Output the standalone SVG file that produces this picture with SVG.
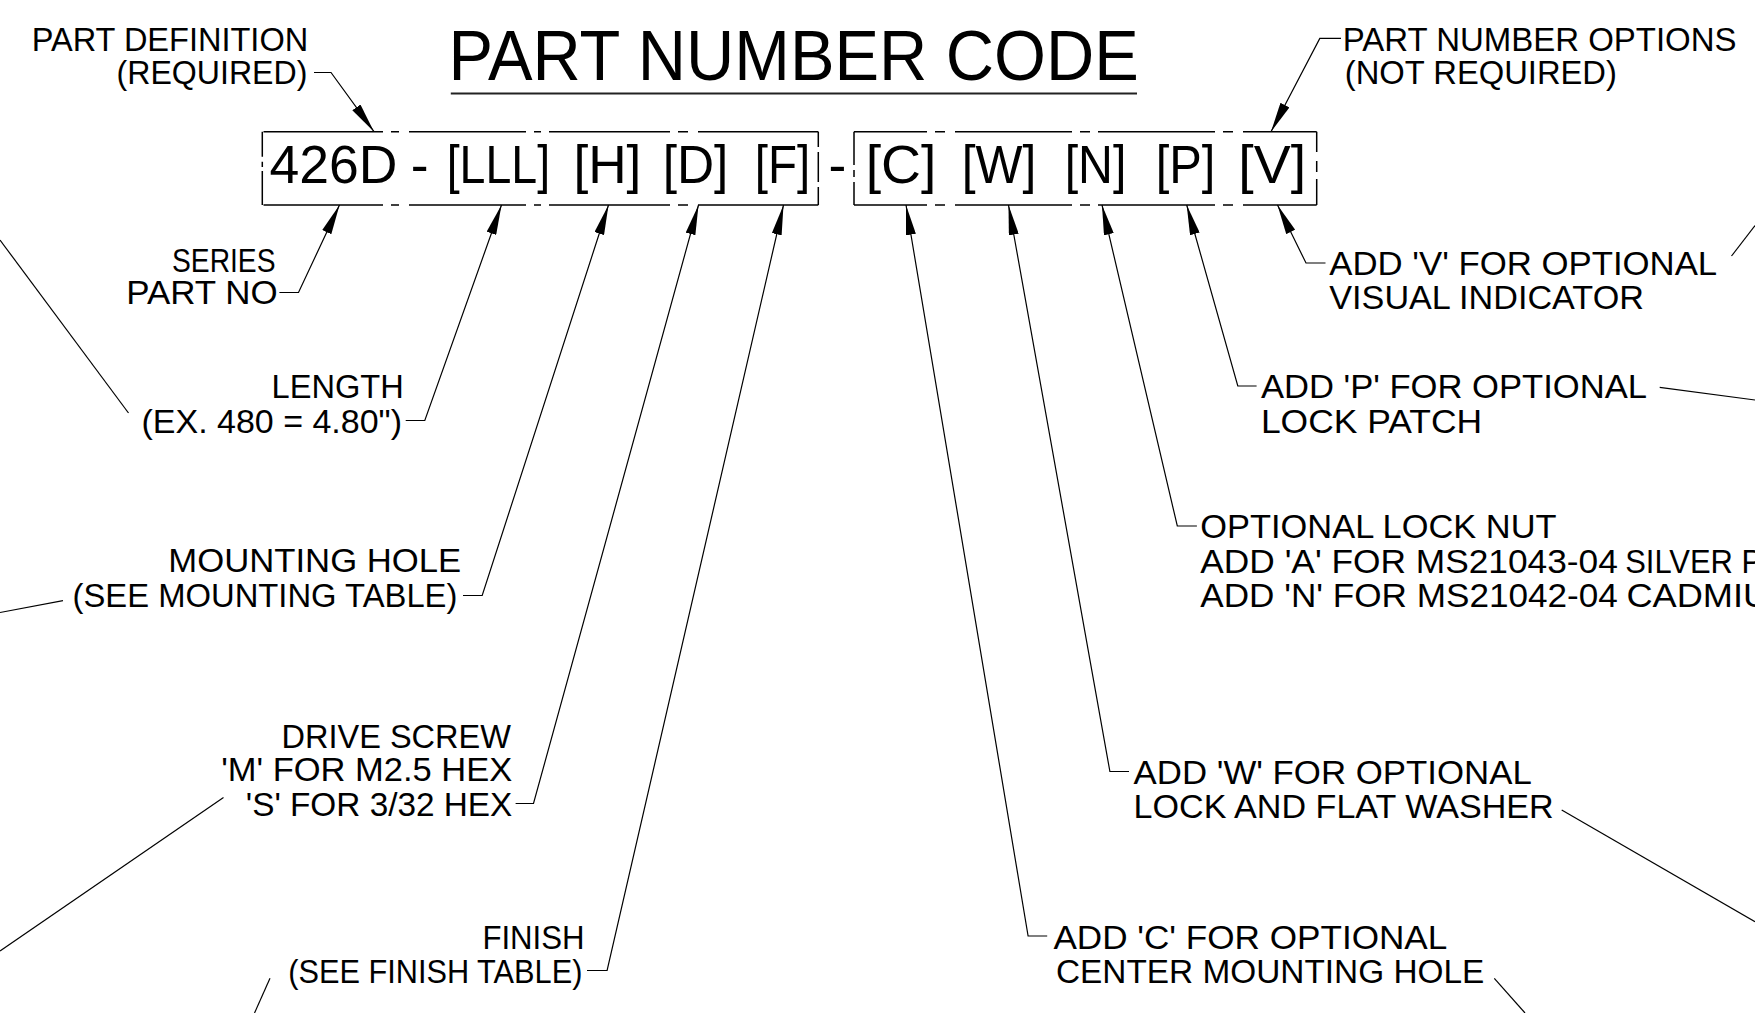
<svg xmlns="http://www.w3.org/2000/svg" width="1755" height="1013" viewBox="0 0 1755 1013">
<style>
text{font-family:"Liberation Sans",Arial,sans-serif;fill:#000}
.lbl{font-size:34px}
.code{font-size:53.5px}
.title{font-size:69.5px}
.ldr{fill:none;stroke:#000;stroke-width:1.2}
.box{fill:none;stroke:#000;stroke-width:1.5}
</style>
<defs>
<marker id="arr" viewBox="0 0 30 10" refX="30" refY="5" markerWidth="30" markerHeight="10" markerUnits="userSpaceOnUse" orient="auto">
<path d="M0,0 L30,5 L0,10 Z" fill="#000"/>
</marker>
</defs>
<rect width="1755" height="1013" fill="#fff"/>

<g id="title">
<text class="title" x="448.4" y="80" textLength="690.5" lengthAdjust="spacingAndGlyphs">PART NUMBER CODE</text>
<line x1="450.8" y1="93.5" x2="1137" y2="93.5" stroke="#222" stroke-width="2"/>
</g>

<g id="code-required">
<path class="box" d="M263.5,131.7H383M391,131.7H399M409,131.7H526M534,131.7H541M549,131.7H670M678,131.7H688M698,131.7H818.3
M263.5,205H383M391,205H399M409,205H526M534,205H541M549,205H670M678,205H688M698,205H818.3
M262.3,131.7V156.7M262.3,161.7V167M262.3,171V205
M818.3,131.7V147M818.3,152V182M818.3,187V205"/>
<text class="code" x="269.5" y="183.3">426D</text>
<text class="code" x="410.8" y="183.3">-</text>
<text class="code" x="446.7" y="183.3" textLength="103.4" lengthAdjust="spacingAndGlyphs">[LLL]</text>
<text class="code" x="573.4" y="183.3" textLength="68" lengthAdjust="spacingAndGlyphs">[H]</text>
<text class="code" x="662.65" y="183.3" textLength="65.7" lengthAdjust="spacingAndGlyphs">[D]</text>
<text class="code" x="754.7" y="183.3" textLength="55.4" lengthAdjust="spacingAndGlyphs">[F]</text>
</g>

<g id="code-separator">
<text class="code" x="828.6" y="183.3">-</text>
</g>

<g id="code-options">
<path class="box" d="M854,131.7H927M935,131.7H945M955,131.7H1072M1080,131.7H1090M1098,131.7H1215M1223,131.7H1233M1243,131.7H1316.7
M854,205H927M935,205H945M955,205H1072M1080,205H1090M1098,205H1215M1223,205H1233M1243,205H1316.7
M854,131.7V165M854,170V177M854,182V205
M1316.7,131.7V152M1316.7,161V172M1316.7,179V205"/>
<text class="code" x="865.65" y="183.3" textLength="70.7" lengthAdjust="spacingAndGlyphs">[C]</text>
<text class="code" x="961.65" y="183.3" textLength="74.7" lengthAdjust="spacingAndGlyphs">[W]</text>
<text class="code" x="1064.65" y="183.3" textLength="61.7" lengthAdjust="spacingAndGlyphs">[N]</text>
<text class="code" x="1155.65" y="183.3" textLength="59.7" lengthAdjust="spacingAndGlyphs">[P]</text>
<text class="code" x="1238.35" y="183.3" textLength="67.7" lengthAdjust="spacingAndGlyphs">[V]</text>
</g>

<g id="lbl-part-definition">
<text class="lbl" x="31.7" y="50.5" textLength="276.5" lengthAdjust="spacingAndGlyphs">PART DEFINITION</text>
<text class="lbl" x="116.6" y="84" textLength="190.8" lengthAdjust="spacingAndGlyphs">(REQUIRED)</text>
</g>

<g id="lbl-part-number-options">
<text class="lbl" x="1342.8" y="50.5" textLength="393.7" lengthAdjust="spacingAndGlyphs">PART NUMBER OPTIONS</text>
<text class="lbl" x="1344.8" y="84" textLength="272.1" lengthAdjust="spacingAndGlyphs">(NOT REQUIRED)</text>
</g>

<g id="lbl-series">
<text class="lbl" x="172" y="271.5" textLength="103.5" lengthAdjust="spacingAndGlyphs">SERIES</text>
<text class="lbl" x="126.2" y="304" textLength="151.4" lengthAdjust="spacingAndGlyphs">PART NO</text>
</g>

<g id="lbl-length">
<text class="lbl" x="271.6" y="398.3" textLength="132.2" lengthAdjust="spacingAndGlyphs">LENGTH</text>
<text class="lbl" x="141.5" y="432.5" textLength="260.5" lengthAdjust="spacingAndGlyphs">(EX. 480 = 4.80")</text>
</g>

<g id="lbl-mounting-hole">
<text class="lbl" x="168.3" y="572" textLength="292.9" lengthAdjust="spacingAndGlyphs">MOUNTING HOLE</text>
<text class="lbl" x="72.6" y="607" textLength="384.8" lengthAdjust="spacingAndGlyphs">(SEE MOUNTING TABLE)</text>
</g>

<g id="lbl-drive-screw">
<text class="lbl" x="281.5" y="747.5" textLength="229.4" lengthAdjust="spacingAndGlyphs">DRIVE SCREW</text>
<text class="lbl" x="221.2" y="781" textLength="291.1" lengthAdjust="spacingAndGlyphs">'M' FOR M2.5 HEX</text>
<text class="lbl" x="245.8" y="815.5" textLength="266.5" lengthAdjust="spacingAndGlyphs">'S' FOR 3/32 HEX</text>
</g>

<g id="lbl-finish">
<text class="lbl" x="482.4" y="948.5" textLength="102.2" lengthAdjust="spacingAndGlyphs">FINISH</text>
<text class="lbl" x="288.2" y="983" textLength="294.2" lengthAdjust="spacingAndGlyphs">(SEE FINISH TABLE)</text>
</g>

<g id="lbl-option-v">
<text class="lbl" x="1329.3" y="275" textLength="387.9" lengthAdjust="spacingAndGlyphs">ADD 'V' FOR OPTIONAL</text>
<text class="lbl" x="1329.3" y="309" textLength="314.6" lengthAdjust="spacingAndGlyphs">VISUAL INDICATOR</text>
</g>

<g id="lbl-option-p">
<text class="lbl" x="1260.9" y="398.3" textLength="386.2" lengthAdjust="spacingAndGlyphs">ADD 'P' FOR OPTIONAL</text>
<text class="lbl" x="1260.9" y="432.5" textLength="221.2" lengthAdjust="spacingAndGlyphs">LOCK PATCH</text>
</g>

<g id="lbl-option-n">
<text class="lbl" x="1200.3" y="538" textLength="356.2" lengthAdjust="spacingAndGlyphs">OPTIONAL LOCK NUT</text>
<text class="lbl" x="1200.3" y="572.5" textLength="417.6" lengthAdjust="spacingAndGlyphs">ADD 'A' FOR MS21043-04</text>
<text class="lbl" x="1625.2" y="572.5" textLength="137" lengthAdjust="spacingAndGlyphs">SILVER P</text>
<text class="lbl" x="1200.3" y="607" textLength="417.6" lengthAdjust="spacingAndGlyphs">ADD 'N' FOR MS21042-04</text>
<text class="lbl" x="1626.4" y="607" textLength="142.8" lengthAdjust="spacingAndGlyphs">CADMIU</text>
</g>

<g id="lbl-option-w">
<text class="lbl" x="1133.6" y="783.5" textLength="398.2" lengthAdjust="spacingAndGlyphs">ADD 'W' FOR OPTIONAL</text>
<text class="lbl" x="1133.6" y="818" textLength="420.1" lengthAdjust="spacingAndGlyphs">LOCK AND FLAT WASHER</text>
</g>

<g id="lbl-option-c">
<text class="lbl" x="1053.4" y="948.5" textLength="393.9" lengthAdjust="spacingAndGlyphs">ADD 'C' FOR OPTIONAL</text>
<text class="lbl" x="1056" y="983" textLength="428.3" lengthAdjust="spacingAndGlyphs">CENTER MOUNTING HOLE</text>
</g>

<g id="connectors">
<polyline class="ldr" points="314,72.5 331,72.5 374,131.7" marker-end="url(#arr)"/>
<polyline class="ldr" points="1341,38.4 1319.8,38.4 1271,131.7" marker-end="url(#arr)"/>
<polyline class="ldr" points="279.4,292.5 298.5,292.5 339.5,205" marker-end="url(#arr)"/>
<polyline class="ldr" points="405.7,420.5 424.8,420.5 501.5,205" marker-end="url(#arr)"/>
<polyline class="ldr" points="463,595.5 482.2,595.5 608.5,205" marker-end="url(#arr)"/>
<polyline class="ldr" points="515.6,803.5 533.5,803.5 698.5,205" marker-end="url(#arr)"/>
<polyline class="ldr" points="587,970.5 607.1,970.5 783.5,205" marker-end="url(#arr)"/>
<polyline class="ldr" points="1047.2,936 1028.1,936 906,205" marker-end="url(#arr)"/>
<polyline class="ldr" points="1129,771.5 1109.9,771.5 1008.5,205" marker-end="url(#arr)"/>
<polyline class="ldr" points="1196.9,526 1177.3,526 1102,205" marker-end="url(#arr)"/>
<polyline class="ldr" points="1256.6,386 1237.8,386 1186.7,205" marker-end="url(#arr)"/>
<polyline class="ldr" points="1325.5,263 1306,263 1277.5,205" marker-end="url(#arr)"/>
<line class="ldr" x1="0" y1="240" x2="128.5" y2="413"/>
<line class="ldr" x1="0" y1="612.5" x2="63" y2="600.7"/>
<line class="ldr" x1="223.5" y1="797.5" x2="0" y2="951"/>
<line class="ldr" x1="270" y1="978.3" x2="254.5" y2="1013"/>
<line class="ldr" x1="1731.5" y1="256" x2="1755" y2="225.5"/>
<line class="ldr" x1="1659.7" y1="387.3" x2="1755" y2="400"/>
<line class="ldr" x1="1561.7" y1="810" x2="1755" y2="921.7"/>
<line class="ldr" x1="1494.3" y1="978.3" x2="1525" y2="1013"/>
</g>
</svg>
